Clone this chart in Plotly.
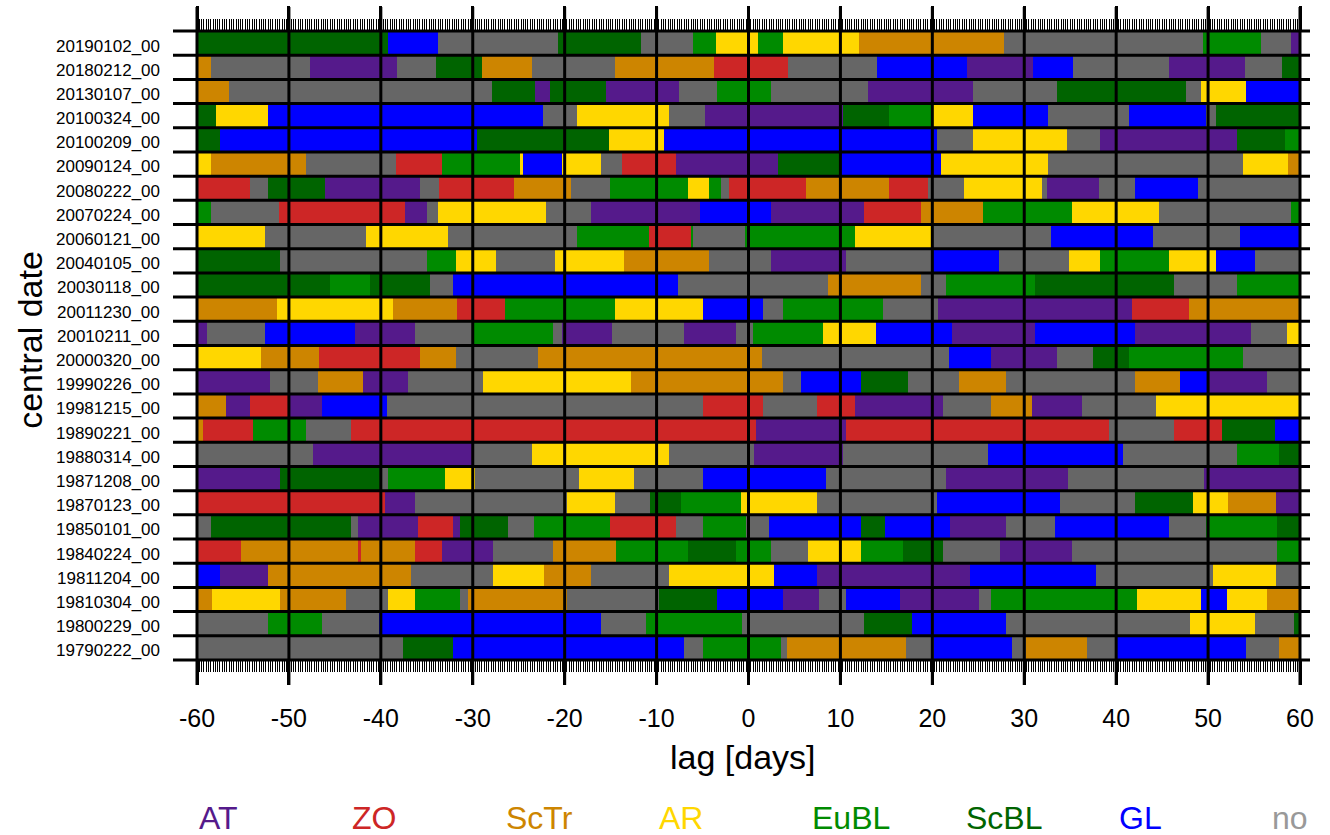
import plotly.graph_objects as go

# Weather regime categories and their colours
regimes = ["AT", "ZO", "ScTr", "AR", "EuBL", "ScBL", "GL", "no"]
regime_colors = ["#551A8B", "#CD2626", "#CD8500", "#FFD700",
                 "#008B00", "#006400", "#0000FF", "#666666"]
label_colors = ["#551A8B", "#CD2626", "#CD8500", "#FFD700",
                "#008B00", "#006400", "#0000FF", "#999999"]

lag_min, lag_max = -60, 60
lag_ticks = list(range(-60, 61, 10))

# Regime sequences per central date: (regime, lag at which the regime ends)
r_20190102 = [("ScBL", -39.25), ("GL", -33.75), ("no", -20.75), ("ScBL", -11.75), ("no", -6.0),
              ("EuBL", -3.5), ("AR", 1.0), ("EuBL", 3.75), ("AR", 12.0), ("ScTr", 27.75),
              ("no", 49.5), ("EuBL", 55.75), ("no", 59.0), ("AT", 60)]
r_20180212 = [("ScTr", -58.5), ("no", -47.75), ("AT", -38.25), ("no", -34.0), ("ScBL", -29.0),
              ("ScTr", -23.6), ("no", -14.5), ("ScTr", -3.75), ("ZO", 4.25), ("no", 14.0),
              ("GL", 23.75), ("AT", 31.0), ("GL", 35.25), ("no", 45.75), ("AT", 54.0),
              ("no", 58.0), ("ScBL", 60)]
r_20130107 = [("ScTr", -56.5), ("no", -27.9), ("ScBL", -23.25), ("AT", -21.6), ("ScBL", -15.5),
              ("AT", -7.6), ("no", -3.4), ("EuBL", 2.5), ("no", 13.0), ("AT", 24.4),
              ("no", 33.6), ("ScBL", 47.6), ("no", 49.2), ("AR", 54.1), ("GL", 60)]
r_20100324 = [("ScBL", -57.9), ("AR", -52.3), ("GL", -22.4), ("no", -18.7), ("AR", -8.6),
              ("no", -4.7), ("AT", 10.25), ("ScBL", 15.25), ("EuBL", 20.0), ("AR", 24.4),
              ("GL", 32.6), ("no", 41.4), ("GL", 49.8), ("no", 50.9), ("ScBL", 60)]
r_20100209 = [("ScBL", -57.5), ("GL", -29.5), ("ScBL", -15.2), ("AR", -9.2), ("GL", 20.5),
              ("no", 24.4), ("AR", 34.6), ("no", 38.2), ("AT", 53.1), ("ScBL", 58.4),
              ("EuBL", 60)]
r_20090124 = [("AR", -58.5), ("ScTr", -48.1), ("no", -38.3), ("ZO", -33.4), ("EuBL", -24.9),
              ("AR", -24.5), ("GL", -20.3), ("AR", -16.1), ("no", -13.8), ("ZO", -7.9),
              ("AT", 3.2), ("ScBL", 10.0), ("GL", 20.9), ("AR", 32.6), ("no", 53.8),
              ("AR", 58.7), ("ScTr", 60)]
r_20080222 = [("ZO", -54.2), ("no", -52.25), ("ScBL", -46.1), ("AT", -35.7), ("no", -33.7),
              ("ZO", -25.5), ("ScTr", -19.3), ("no", -15.1), ("EuBL", -6.6), ("AR", -4.35),
              ("EuBL", -3.0), ("no", -2.1), ("ZO", 6.3), ("ScTr", 15.25), ("ZO", 19.5),
              ("no", 23.4), ("AR", 31.9), ("no", 32.5), ("AT", 38.1), ("no", 42.1),
              ("GL", 48.9), ("no", 60)]
r_20070224 = [("EuBL", -58.5), ("no", -51.05), ("ZO", -37.4), ("AT", -35.0), ("no", -33.8),
              ("AR", -22.0), ("no", -17.1), ("AT", -5.3), ("GL", 2.5), ("AT", 12.6),
              ("ZO", 18.8), ("ScTr", 25.5), ("EuBL", 35.2), ("AR", 44.7), ("no", 59.0),
              ("EuBL", 60)]
r_20060121 = [("AR", -52.6), ("no", -41.6), ("AR", -32.7), ("no", -18.7), ("EuBL", -10.8),
              ("ZO", -6.3), ("EuBL", -6.0), ("no", -0.4), ("EuBL", 11.6), ("AR", 20.0),
              ("no", 32.9), ("GL", 44.0), ("no", 53.5), ("GL", 60)]
r_20040105 = [("ScBL", -51.0), ("no", -35.0), ("EuBL", -31.8), ("AR", -27.5), ("no", -21.0),
              ("AR", -13.5), ("ScTr", -4.35), ("no", 2.5), ("AT", 10.6), ("no", 20.0),
              ("GL", 27.3), ("no", 34.9), ("AR", 38.2), ("EuBL", 45.7), ("AR", 50.9),
              ("GL", 55.1), ("no", 60)]
r_20030118 = [("ScBL", -45.5), ("EuBL", -41.2), ("ScBL", -34.7), ("no", -32.1), ("GL", -7.7),
              ("no", 8.7), ("ScTr", 18.8), ("no", 21.5), ("EuBL", 31.2), ("ScBL", 46.3),
              ("no", 53.1), ("EuBL", 60)]
r_20011230 = [("ScTr", -51.3), ("AR", -38.7), ("ScTr", -31.7), ("ZO", -26.5), ("EuBL", -14.5),
              ("AR", -5.0), ("GL", 1.6), ("no", 3.8), ("EuBL", 14.6), ("no", 20.6),
              ("AT", 41.7), ("ZO", 47.9), ("ScTr", 60)]
r_20010211 = [("AT", -58.9), ("no", -52.6), ("GL", -42.8), ("AT", -36.3), ("no", -30.0),
              ("EuBL", -21.3), ("no", -20.3), ("AT", -14.8), ("no", -7.0), ("AT", -1.4),
              ("no", 0.5), ("EuBL", 8.1), ("AR", 13.9), ("GL", 22.1), ("AT", 31.2),
              ("GL", 42.1), ("AT", 54.7), ("no", 58.6), ("AR", 60)]
r_20000320 = [("AR", -53.0), ("ScTr", -46.7), ("ZO", -35.7), ("ScTr", -31.8), ("no", -22.9),
              ("ScTr", 1.5), ("no", 21.8), ("GL", 26.4), ("AT", 33.55), ("no", 37.5),
              ("ScBL", 41.4), ("EuBL", 53.8), ("no", 60)]
r_19990226 = [("AT", -52.1), ("no", -46.8), ("ScTr", -41.9), ("AT", -37.0), ("no", -28.9),
              ("AR", -12.8), ("ScTr", 3.8), ("no", 5.7), ("GL", 12.25), ("ScBL", 17.4),
              ("no", 22.9), ("ScTr", 28.0), ("no", 42.1), ("ScTr", 46.9), ("GL", 50.0),
              ("AT", 56.4), ("no", 60)]
r_19981215 = [("ScTr", -56.85), ("AT", -54.2), ("ZO", -50.0), ("AT", -46.45), ("GL", -39.3),
              ("no", -5.0), ("ZO", 1.55), ("no", 7.4), ("ZO", 11.6), ("AT", 21.2),
              ("no", 26.4), ("ScTr", 30.8), ("AT", 36.3), ("no", 44.35), ("AR", 60)]
r_19890221 = [("ScTr", -59.4), ("ZO", -53.95), ("EuBL", -48.1), ("no", -43.2), ("ZO", 0.8),
              ("AT", 10.6), ("ZO", 39.2), ("no", 46.3), ("ZO", 51.5), ("ScBL", 57.3),
              ("GL", 60)]
r_19880314 = [("no", -47.4), ("AT", -30.0), ("no", -23.6), ("AR", -8.6), ("no", 0.55),
              ("AT", 10.25), ("no", 26.1), ("GL", 40.7), ("no", 53.1), ("EuBL", 57.75),
              ("ScBL", 60)]
r_19871208 = [("AT", -51.0), ("ScBL", -40.0), ("no", -39.2), ("EuBL", -33.0), ("AR", -29.75),
              ("no", -18.4), ("AR", -12.5), ("no", -5.0), ("GL", 8.4), ("no", 21.5),
              ("AT", 34.8), ("no", 49.6), ("AT", 60)]
r_19870123 = [("ZO", -39.6), ("AT", -36.3), ("no", -19.75), ("AR", -14.5), ("no", -10.75),
              ("ScBL", -7.3), ("EuBL", -0.8), ("AR", 7.4), ("no", 20.5), ("GL", 33.9),
              ("no", 42.1), ("ScBL", 48.4), ("AR", 52.2), ("ScTr", 57.4), ("AT", 60)]
r_19850101 = [("no", -58.5), ("ScBL", -43.2), ("no", -42.5), ("AT", -36.0), ("ZO", -32.1),
              ("AT", -31.4), ("ScBL", -26.2), ("no", -23.3), ("EuBL", -15.1), ("ZO", -7.9),
              ("no", -5.0), ("EuBL", -0.25), ("no", 2.2), ("GL", 12.25), ("ScBL", 14.8),
              ("GL", 21.9), ("AT", 28.0), ("no", 33.3), ("GL", 45.7), ("no", 49.8),
              ("EuBL", 57.5), ("ScBL", 60)]
r_19840224 = [("ZO", -55.25), ("ScTr", -42.5), ("ZO", -42.2), ("ScTr", -36.3), ("ZO", -33.4),
              ("AT", -27.8), ("no", -21.3), ("ScTr", -14.4), ("EuBL", -6.6), ("ScBL", -1.4),
              ("EuBL", 2.5), ("no", 6.45), ("AR", 12.25), ("EuBL", 16.85), ("ScBL", 21.2),
              ("no", 27.4), ("AT", 35.2), ("no", 57.5), ("EuBL", 60)]
r_19811204 = [("GL", -57.5), ("AT", -52.25), ("ScTr", -36.7), ("no", -27.8), ("AR", -22.3),
              ("ScTr", -17.1), ("no", -8.6), ("AR", 2.8), ("GL", 7.4), ("AT", 24.1),
              ("GL", 37.8), ("no", 50.5), ("AR", 57.4), ("no", 60)]
r_19810304 = [("ScTr", -58.4), ("AR", -51.0), ("ScTr", -43.8), ("no", -39.2), ("AR", -36.3),
              ("EuBL", -31.4), ("no", -30.5), ("ScTr", -19.75), ("no", -9.7), ("ScBL", -3.45),
              ("GL", 3.8), ("AT", 7.7), ("no", 10.6), ("GL", 16.5), ("AT", 25.1),
              ("no", 26.4), ("EuBL", 42.3), ("AR", 49.2), ("GL", 52.1), ("AR", 56.45),
              ("ScTr", 60)]
r_19800229 = [("no", -52.25), ("EuBL", -46.45), ("no", -40.25), ("GL", -16.1), ("no", -11.2),
              ("EuBL", -0.7), ("no", 12.6), ("ScBL", 17.8), ("GL", 28.0), ("no", 48.0),
              ("AR", 55.1), ("no", 59.35), ("ScBL", 60)]
r_19790222 = [("no", -37.6), ("ScBL", -32.1), ("GL", -7.0), ("no", -5.0), ("EuBL", 3.55),
              ("no", 4.2), ("ScTr", 17.1), ("no", 20.2), ("GL", 28.65), ("no", 30.2),
              ("ScTr", 36.8), ("no", 40.0), ("GL", 54.1), ("no", 57.75), ("ScTr", 60)]

# Rows listed from top to bottom
central_dates = ["20190102_00", "20180212_00", "20130107_00", "20100324_00", "20100209_00",
                 "20090124_00", "20080222_00", "20070224_00", "20060121_00", "20040105_00",
                 "20030118_00", "20011230_00", "20010211_00", "20000320_00", "19990226_00",
                 "19981215_00", "19890221_00", "19880314_00", "19871208_00", "19870123_00",
                 "19850101_00", "19840224_00", "19811204_00", "19810304_00", "19800229_00",
                 "19790222_00"]
sequences = [r_20190102, r_20180212, r_20130107, r_20100324, r_20100209, r_20090124,
             r_20080222, r_20070224, r_20060121, r_20040105, r_20030118, r_20011230,
             r_20010211, r_20000320, r_19990226, r_19981215, r_19890221, r_19880314,
             r_19871208, r_19870123, r_19850101, r_19840224, r_19811204, r_19810304,
             r_19800229, r_19790222]

n_rows = len(central_dates)
FONT = "Liberation Sans, Arial, Helvetica, sans-serif"

# Collect the segments of each regime into one horizontal bar trace
seg = {r: {"y": [], "base": [], "len": []} for r in regimes}
for i, seq in enumerate(sequences):
    ypos = n_rows - 1 - i
    start = lag_min
    for reg, end in seq:
        seg[reg]["y"].append(ypos)
        seg[reg]["base"].append(start)
        seg[reg]["len"].append(end - start)
        start = end

fig = go.Figure()
for reg, col in zip(regimes, regime_colors):
    fig.add_trace(go.Bar(
        y=seg[reg]["y"], x=seg[reg]["len"], base=seg[reg]["base"],
        orientation="h", width=1.0, name=reg,
        marker=dict(color=col, line=dict(width=0)),
        showlegend=False, hoverinfo="skip",
    ))

W_PLOT = 1330 - 197 - 30
H_PLOT = 835 - 31 - 175

shapes = []
# row separators, extending out as tick marks on the left
for k in range(n_rows + 1):
    yp = k / n_rows
    shapes.append(dict(type="line", xref="paper", yref="paper",
                       x0=-24 / W_PLOT, x1=1 + 10 / W_PLOT, y0=yp, y1=yp,
                       line=dict(color="black", width=3)))
# vertical lines at each major lag tick
for v in lag_ticks:
    xp = (v - lag_min) / (lag_max - lag_min)
    shapes.append(dict(type="line", xref="paper", yref="paper",
                       x0=xp, x1=xp, y0=-25 / H_PLOT, y1=1 + 24 / H_PLOT,
                       line=dict(color="black", width=3)))

annotations = []
for i, d in enumerate(central_dates):
    annotations.append(dict(xref="paper", yref="y", x=-35 / W_PLOT, y=n_rows - 1 - i - 0.12,
                            text=d, showarrow=False, xanchor="right", yanchor="middle",
                            font=dict(family=FONT, size=17, color="black")))
annotations.append(dict(xref="paper", yref="paper", x=(30 - 197) / W_PLOT, y=0.509,
                        text="central date", textangle=-90, showarrow=False,
                        xanchor="center", yanchor="middle",
                        font=dict(family=FONT, size=34, color="black")))
annotations.append(dict(xref="paper", yref="paper", x=0.495, y=(660 - 757) / H_PLOT,
                        text="lag [days]", showarrow=False,
                        xanchor="center", yanchor="middle",
                        font=dict(family=FONT, size=34, color="black")))
for k, (reg, col) in enumerate(zip(regimes, label_colors)):
    annotations.append(dict(xref="paper", yref="paper", x=k * 153.3 / W_PLOT,
                            y=(660 - 818) / H_PLOT, text=reg, showarrow=False,
                            xanchor="left", yanchor="middle",
                            font=dict(family=FONT, size=32, color=col)))

fig.update_layout(
    width=1330, height=835,
    margin=dict(l=197, r=30, t=31, b=175),
    paper_bgcolor="white", plot_bgcolor="white",
    barmode="overlay", bargap=0,
    shapes=shapes, annotations=annotations,
    xaxis=dict(range=[lag_min, lag_max], tickvals=lag_ticks,
               ticktext=[str(v) for v in lag_ticks],
               ticks="outside", ticklen=24, tickwidth=3, tickcolor="black",
               mirror="ticks", showline=False, showgrid=False, zeroline=False,
               ticklabelstandoff=12,
               tickfont=dict(family=FONT, size=25, color="black"),
               minor=dict(ticks="outside", ticklen=11, tickwidth=1, tickcolor="black",
                          dtick=0.25, tick0=0, showgrid=False)),
    yaxis=dict(range=[-0.5, n_rows - 0.5], showticklabels=False, ticks="",
               showgrid=False, zeroline=False, showline=False),
)

fig.write_html("out.html")
